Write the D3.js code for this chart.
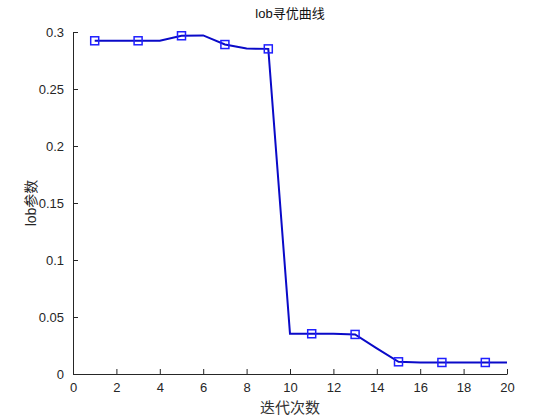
<!DOCTYPE html>
<html><head><meta charset="utf-8">
<script src="https://cdn.jsdelivr.net/npm/d3@7"></script>
<style>body{margin:0;background:#fff;} svg{display:block;}</style>
</head><body>
<svg id="c" width="560" height="420"></svg>
<script>
const iterations = [1,2,3,4,5,6,7,8,9,10,11,12,13,14,15,16,17,18,19,20];
const lobValues = [0.2923,0.2923,0.2923,0.2923,0.2967,0.2970,0.2890,0.2855,0.2852,0.0353,0.0353,0.0352,0.0347,0.0225,0.0107,0.0101,0.0101,0.0101,0.0101,0.0101];
const markerIterations = [1,3,5,7,9,11,13,15,17,19];
const xTicks = [0,2,4,6,8,10,12,14,16,18,20];
const yTicks = [0,0.05,0.1,0.15,0.2,0.25,0.3];
const titleText = "lob寻优曲线";
const xLabelText = "迭代次数";
const yLabelText = "lob参数";

const svg = d3.select("#c");
const m = {left:73, right:507, top:32, bottom:374};
const x = d3.scaleLinear().domain([0,20]).range([m.left,m.right]);
const y = d3.scaleLinear().domain([0,0.3]).range([m.bottom,m.top]);
const axisColor = "#262626";
const tickFont = "'Liberation Sans', Arial, sans-serif";

const xa = svg.append("g").attr("transform",`translate(0,${m.bottom})`)
  .call(d3.axisBottom(x).tickValues(xTicks).tickSizeInner(-5).tickSizeOuter(0).tickPadding(9).tickFormat(d3.format("d")));
const ya = svg.append("g").attr("transform",`translate(${m.left},0)`)
  .call(d3.axisLeft(y).tickValues(yTicks).tickSizeInner(-5).tickSizeOuter(0).tickPadding(9).tickFormat(d=>String(+d.toFixed(2))));
[xa,ya].forEach(a=>{
  a.selectAll("path").attr("stroke",axisColor).attr("stroke-width",1);
  a.selectAll("line").attr("stroke",axisColor);
  a.selectAll("text").attr("fill",axisColor).style("font-family",tickFont).style("font-size","13px");
});

const data = iterations.map((d,i)=>({x:d,y:lobValues[i]}));
svg.append("path").datum(data)
  .attr("fill","none").attr("stroke","#0a0ac8").attr("stroke-width",2)
  .attr("d", d3.line().x(d=>x(d.x)).y(d=>y(d.y)));

const mk = data.filter(d=>markerIterations.includes(d.x));
svg.selectAll("rect.mk").data(mk).enter().append("rect").attr("class","mk")
  .attr("x",d=>x(d.x)-4).attr("y",d=>y(d.y)-4).attr("width",8).attr("height",8)
  .attr("fill","none").attr("stroke","#1f1fff").attr("stroke-width",1.5);

svg.append("text").attr("x",290).attr("y",18).attr("text-anchor","middle")
  .attr("fill","#111").style("font-family","'Liberation Sans','Noto Sans CJK SC',sans-serif").style("font-size","13px").text(titleText);
svg.append("text").attr("x",290).attr("y",413).attr("text-anchor","middle")
  .attr("fill","#333").style("font-family","'Noto Sans CJK SC',sans-serif").style("font-size","15px").text(xLabelText);
svg.append("text").attr("transform","translate(36,203) rotate(-90)").attr("text-anchor","middle")
  .attr("fill","#262626").style("font-family","'Liberation Sans','Noto Sans CJK SC',sans-serif").style("font-size","14px").text(yLabelText);
</script>
</body></html>
